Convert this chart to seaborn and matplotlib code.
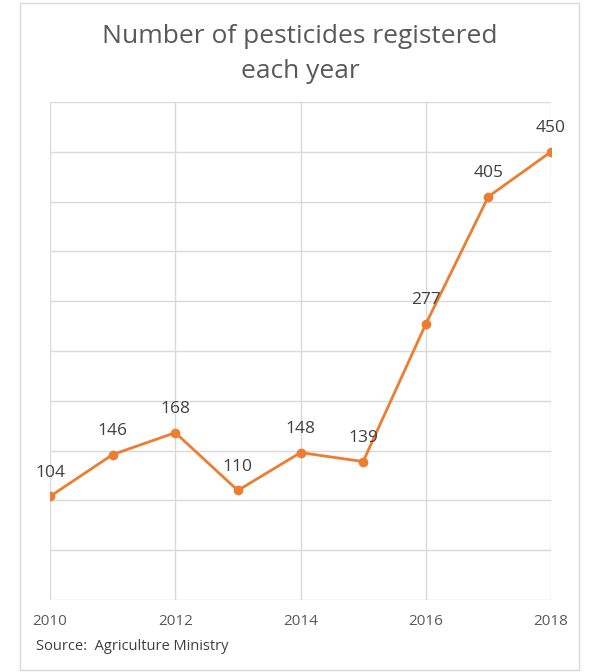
import pandas as pd
import numpy as np
import seaborn as sns
import matplotlib.pyplot as plt
from matplotlib.patches import Rectangle

# data
years = [2010, 2011, 2012, 2013, 2014, 2015, 2016, 2017, 2018]
registered = [104, 146, 168, 110, 148, 139, 277, 405, 450]
year_ticks = [2010, 2012, 2014, 2016, 2018]

df = pd.DataFrame({'year': years, 'count': registered})

sns.set_theme(style="whitegrid", rc={"grid.color": "#d9d9d9", "grid.linewidth": 1.0})
plt.rcParams['font.family'] = ['Open Sans', 'DejaVu Sans']

fig = plt.figure(figsize=(6, 6.72), dpi=100)
ax = fig.add_axes([50 / 600, 1 - 600 / 672, 501 / 600, 498 / 672])

orange = '#ED7D31'
sns.lineplot(data=df, x='year', y='count', ax=ax, color=orange, linewidth=2,
             marker='o', markersize=7, markeredgewidth=0, errorbar=None)

# data labels above each point
for x, y in zip(years, registered):
    ax.annotate(str(y), (x, y), xytext=(0, 17), textcoords='offset points',
                ha='center', va='center', fontsize=12.5, color='#404040')

ax.set_xlim(2010, 2018)
ax.set_ylim(0, 500)
ax.set_xticks(year_ticks)
ax.set_xticklabels([str(y) for y in year_ticks], fontsize=11, color='#595959')
ax.set_yticks(np.arange(0, 501, 50))
ax.set_yticklabels([])
ax.tick_params(axis='x', pad=10, length=0)
ax.tick_params(axis='y', length=0)
ax.set_xlabel('')
ax.set_ylabel('')
for s in ax.spines.values():
    s.set_visible(False)

fig.text(0.5, 1 - 54 / 672, 'Number of pesticides registered\neach year',
         ha='center', va='center', fontsize=19, color='#595959', linespacing=1.5)
fig.text(36 / 600, 1 - 647 / 672, 'Source:  Agriculture Ministry',
         ha='left', va='center', fontsize=10.5, color='#404040')

# chart border
fig.patches.append(Rectangle((20 / 600, 2 / 672), 559 / 600, 667 / 672,
                             transform=fig.transFigure, fill=False,
                             edgecolor='#d9d9d9', linewidth=1))

fig.savefig('out.png', dpi=100, facecolor='white')
